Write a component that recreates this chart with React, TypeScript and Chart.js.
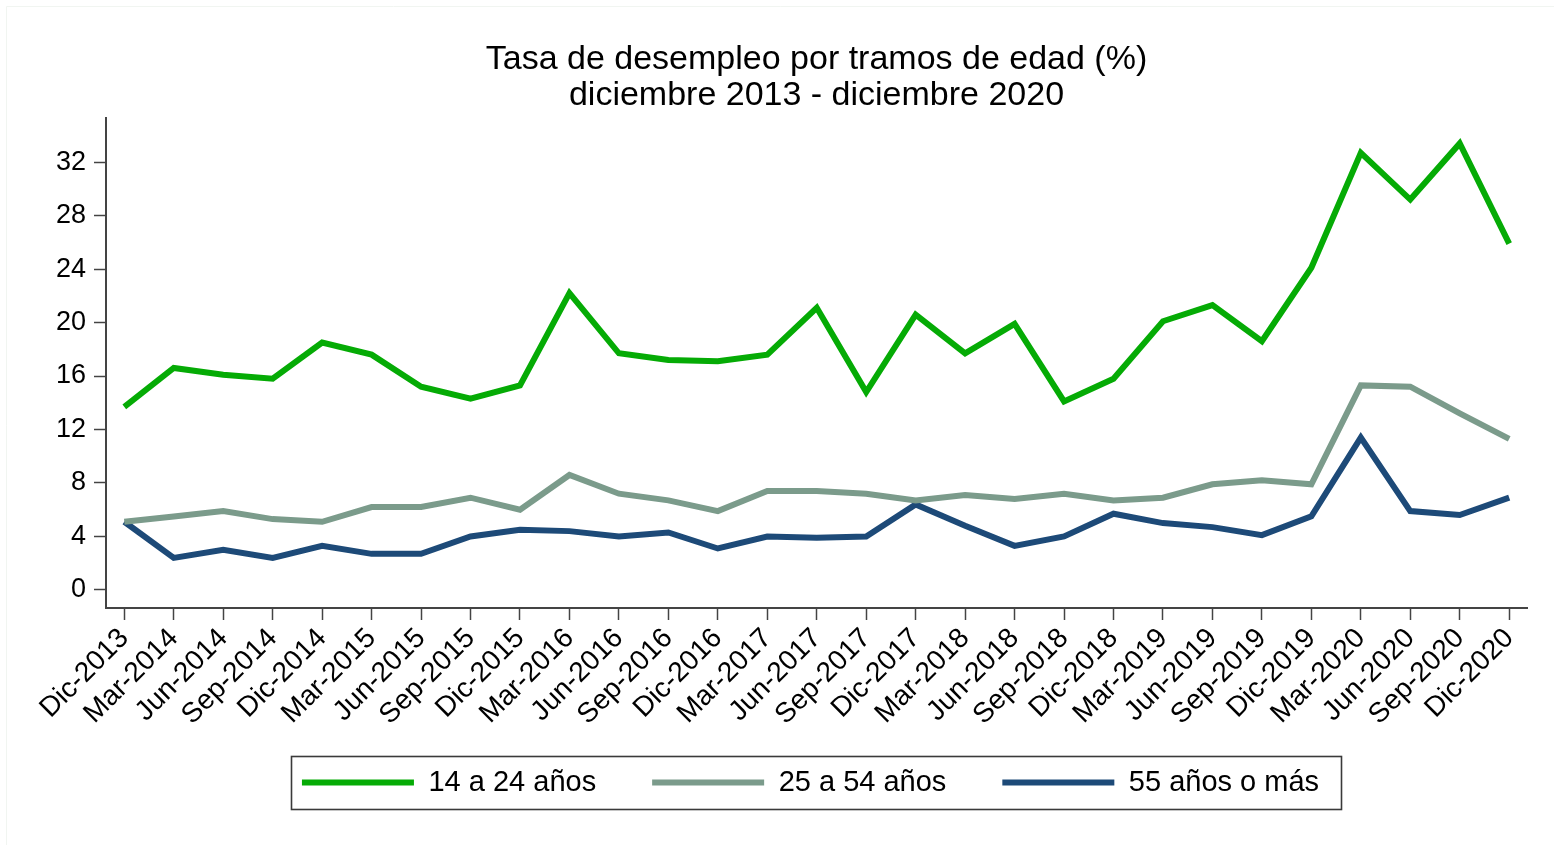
import React, { useEffect, useRef } from "react";
import { Chart, registerables } from "chart.js";

Chart.register(...registerables);

const periods = [
  "Dic-2013", "Mar-2014", "Jun-2014", "Sep-2014", "Dic-2014", "Mar-2015", "Jun-2015", "Sep-2015",
  "Dic-2015", "Mar-2016", "Jun-2016", "Sep-2016", "Dic-2016", "Mar-2017", "Jun-2017", "Sep-2017",
  "Dic-2017", "Mar-2018", "Jun-2018", "Sep-2018", "Dic-2018", "Mar-2019", "Jun-2019", "Sep-2019",
  "Dic-2019", "Mar-2020", "Jun-2020", "Sep-2020", "Dic-2020",
];

const youth = [
  13.7, 16.6, 16.1, 15.8, 18.5, 17.6, 15.2, 14.3, 15.3, 22.2, 17.7, 17.2, 17.1, 17.6, 21.1, 14.8,
  20.6, 17.7, 19.9, 14.1, 15.8, 20.1, 21.3, 18.6, 24.1, 32.7, 29.2, 33.4, 25.9,
];

const adults = [
  5.1, 5.5, 5.9, 5.3, 5.1, 6.2, 6.2, 6.9, 6.0, 8.6, 7.2, 6.7, 5.9, 7.4, 7.4, 7.2,
  6.7, 7.1, 6.8, 7.2, 6.7, 6.9, 7.9, 8.2, 7.9, 15.3, 15.2, 13.2, 11.3,
];

const seniors = [
  5.1, 2.4, 3.0, 2.4, 3.3, 2.7, 2.7, 4.0, 4.5, 4.4, 4.0, 4.3, 3.1, 4.0, 3.9, 4.0,
  6.4, 4.8, 3.3, 4.0, 5.7, 5.0, 4.7, 4.1, 5.5, 11.4, 5.9, 5.6, 6.9,
];

const seriesNames = ["14 a 24 años", "25 a 54 años", "55 años o más"];
const seriesColors = ["#05ab05", "#7b9b8b", "#1d4a78"];
const yTickValues = [0, 4, 8, 12, 16, 20, 24, 28, 32];
const titleLines = ["Tasa de desempleo por tramos de edad (%)", "diciembre 2013 - diciembre 2020"];

const FONT = "'Liberation Sans', Arial, sans-serif";
const AXIS_COLOR = "#444444";

const legendFrame = {
  id: "legendFrame",
  afterLayout(chart: any) {
    const lg = chart.legend;
    if (lg) {
      lg.left -= 6;
      lg.right -= 6;
    }
    const xs = chart.scales.x;
    if (xs) {
      // let the rotated tick labels extend into the empty space above the legend frame
      xs.bottom = xs.top + 140;
      xs.height = 140;
    }
  },
  afterDraw(chart: any) {
    const lg = chart.legend;
    if (!lg || !lg.lineWidths) return;
    const ctx = chart.ctx;
    const pad = lg.options.labels.padding;
    const fontSize = lg.options.labels.font.size;
    const w = lg.lineWidths[0] - pad;
    const cx = (lg.left + lg.right) / 2;
    const cy = lg.top + pad + fontSize / 2;
    const x0 = cx - w / 2 - 11;
    const x1 = cx + w / 2 + 22;
    ctx.save();
    ctx.strokeStyle = "#3a3a3a";
    ctx.lineWidth = 1.6;
    ctx.strokeRect(Math.round(x0) + 0.5, Math.round(cy - 26.5) + 0.5, Math.round(x1 - x0), 53);
    ctx.restore();
    // faint outer frame
    ctx.save();
    ctx.strokeStyle = "#f1f5f1";
    ctx.lineWidth = 1;
    ctx.beginPath();
    ctx.moveTo(6.5, 845);
    ctx.lineTo(6.5, 6.5);
    ctx.lineTo(1554, 6.5);
    ctx.stroke();
    ctx.restore();
  },
};

export default function App() {
  const canvasRef = useRef<HTMLCanvasElement | null>(null);

  useEffect(() => {
    const canvas = canvasRef.current;
    if (!canvas) return;
    Chart.defaults.font.family = FONT;
    Chart.defaults.color = "#000000";

    const series = [youth, adults, seniors];
    const chart = new Chart(canvas, {
      type: "line",
      data: {
        datasets: series.map((vals, i) => ({
          label: seriesNames[i],
          data: vals.map((v, j) => ({ x: j, y: v })),
          borderColor: seriesColors[i],
          backgroundColor: seriesColors[i],
          borderWidth: 6,
          pointRadius: 0,
          pointHoverRadius: 0,
          tension: 0,
          fill: false,
          borderJoinStyle: "miter",
        })),
      },
      options: {
        animation: false,
        responsive: false,
        maintainAspectRatio: false,
        events: [],
        layout: { padding: { left: 0, right: 27, top: 0, bottom: 38 } },
        plugins: {
          title: {
            display: true,
            text: titleLines,
            fullSize: false,
            color: "#000000",
            font: { size: 34, weight: "normal", family: FONT, lineHeight: 36 / 34 },
            padding: { top: 42, bottom: 4 },
          },
          legend: {
            display: true,
            position: "bottom",
            fullSize: false,
            labels: {
              boxWidth: 112,
              boxHeight: 6,
              padding: 56,
              color: "#000000",
              font: { size: 29, family: FONT },
              generateLabels: (c: any) =>
                Chart.defaults.plugins.legend.labels
                  .generateLabels(c)
                  .map((l: any) => ({ ...l, lineWidth: 0 })),
            },
          },
          tooltip: { enabled: false },
        },
        scales: {
          x: {
            type: "linear",
            min: -0.37,
            max: 28.36,
            afterBuildTicks: (scale: any) => {
              scale.ticks = periods.map((_, i) => ({ value: i }));
            },
            afterFit: (scale: any) => {
              scale.height = 104;
            },
            ticks: {
              autoSkip: false,
              maxRotation: 45,
              minRotation: 45,
              padding: 2,
              color: "#000000",
              font: { size: 28, family: FONT },
              callback: (v: any) => periods[v] ?? "",
            },
            grid: {
              display: true,
              drawOnChartArea: false,
              drawTicks: true,
              tickLength: 12,
              tickColor: AXIS_COLOR,
              tickWidth: 1.5,
            },
            border: { display: true, color: AXIS_COLOR, width: 2 },
          },
          y: {
            type: "linear",
            min: -1.35,
            max: 35.3,
            afterBuildTicks: (scale: any) => {
              scale.ticks = yTickValues.map((v) => ({ value: v }));
            },
            afterFit: (scale: any) => {
              scale.width = 106;
            },
            ticks: {
              padding: 8,
              color: "#000000",
              font: { size: 27, family: FONT },
              callback: (v: any) => String(v),
            },
            grid: {
              display: true,
              drawOnChartArea: false,
              drawTicks: true,
              tickLength: 12,
              tickColor: AXIS_COLOR,
              tickWidth: 1.5,
            },
            border: { display: true, color: AXIS_COLOR, width: 2 },
          },
        },
      },
      plugins: [legendFrame],
    } as any);

    return () => chart.destroy();
  }, []);

  return (
    <div style={{ position: "fixed", left: 0, top: 0, width: 1554, height: 845, background: "#ffffff" }}>
      <canvas ref={canvasRef} width={1554} height={845} style={{ display: "block", width: 1554, height: 845 }} />
    </div>
  );
}
